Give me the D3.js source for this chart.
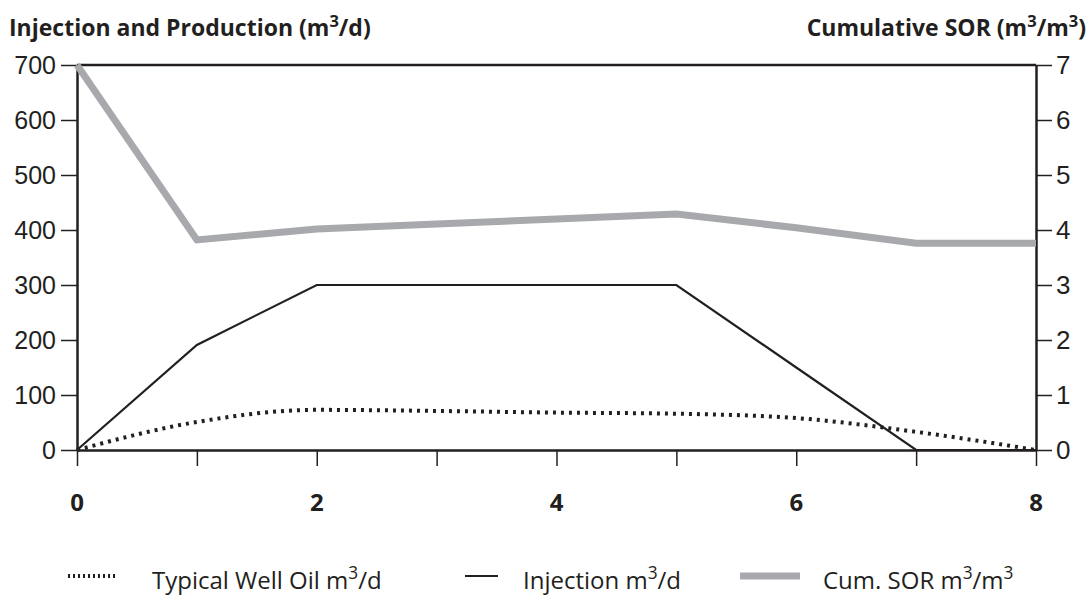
<!DOCTYPE html>
<html>
<head>
<meta charset="utf-8">
<script src="https://cdn.jsdelivr.net/npm/d3@7"></script>
<style>
  html, body { margin: 0; padding: 0; background: #fff; }
  svg { display: block; }
</style>
</head>
<body>
<svg id="chart" width="1092" height="596"></svg>
<script>
// Years since start of operations
const years = [0, 1, 2, 3, 4, 5, 6, 7, 8];
// Typical well oil production, m3/d
const oilRate = [0, 51, 73, 71, 68, 66, 58, 33, 0];
// Steam injection, m3/d
const injection = [0, 191, 300, 300, 300, 300, 150, 0, 0];
// Cumulative steam-oil ratio, m3/m3
const cumSOR = [7.0, 3.82, 4.02, 4.11, 4.2, 4.29, 4.04, 3.76, 3.76];

const leftTicks = [0, 100, 200, 300, 400, 500, 600, 700];
const rightTicks = [0, 1, 2, 3, 4, 5, 6, 7];
const xTicks = [0, 1, 2, 3, 4, 5, 6, 7, 8];
const xLabels = [0, 2, 4, 6, 8];

const svg = d3.select("#chart");
const plotL = 77, plotR = 1036, plotT = 65, plotB = 450;

const x = d3.scaleLinear().domain([0, 8]).range([plotL, plotR]);
const yL = d3.scaleLinear().domain([0, 700]).range([plotB, plotT]);
const yR = d3.scaleLinear().domain([0, 7]).range([plotB, plotT]);

const tickFont = "'Liberation Sans', Arial, sans-serif";
const titleFont = "'Open Sans', 'DejaVu Sans', sans-serif";
const ink = "#231f20";

// Left axis
const gL = svg.append("g").attr("transform", `translate(${plotL},0)`)
  .call(d3.axisLeft(yL).tickValues(leftTicks).tickSize(16).tickPadding(5).tickSizeOuter(0));
// Right axis
const gR = svg.append("g").attr("transform", `translate(${plotR},0)`)
  .call(d3.axisRight(yR).tickValues(rightTicks).tickFormat(d3.format("d"))
    .tickSize(16).tickPadding(4).tickSizeOuter(0));
// Bottom axis
const gB = svg.append("g").attr("transform", `translate(0,${plotB})`)
  .call(d3.axisBottom(x).tickValues(xTicks).tickSize(16).tickSizeOuter(0).tickFormat(() => ""));

[gL, gR, gB].forEach(g => {
  g.selectAll(".domain").attr("stroke", ink).attr("stroke-width", 2.5);
  g.selectAll(".tick line").attr("stroke", ink).attr("stroke-width", 1.5);
  g.selectAll(".tick text").attr("fill", ink).style("font-family", tickFont).style("font-size", "25px");
});
gR.selectAll(".tick text").style("font-size", "26px");

// Top frame line
svg.append("line")
  .attr("x1", plotL).attr("x2", plotR).attr("y1", plotT).attr("y2", plotT)
  .attr("stroke", ink).attr("stroke-width", 2.5);

// Bold x labels for even years
svg.append("g").selectAll("text").data(xLabels).join("text")
  .attr("x", d => x(d)).attr("y", 511)
  .attr("text-anchor", "middle")
  .attr("fill", ink)
  .style("font-family", titleFont).style("font-weight", "bold").style("font-size", "24px")
  .text(d => d);

// Series lines
const lineL = d3.line().x((d, i) => x(years[i])).y(d => yL(d));
const lineR = d3.line().x((d, i) => x(years[i])).y(d => yR(d));

svg.append("path").datum(cumSOR)
  .attr("d", lineR).attr("fill", "none")
  .attr("stroke", "#a7a9ac").attr("stroke-width", 7).attr("stroke-linejoin", "miter");

svg.append("path").datum(injection)
  .attr("d", lineL).attr("fill", "none")
  .attr("stroke", ink).attr("stroke-width", 2.2);

svg.append("path").datum(oilRate)
  .attr("d", d3.line().x((d, i) => x(years[i])).y(d => yL(d)).curve(d3.curveMonotoneX))
  .attr("fill", "none")
  .attr("stroke", ink).attr("stroke-width", 4).attr("stroke-dasharray", "3,5");

// Text with superscript parts; the tspan after a superscript drops back to the baseline
function supText(sel, parts, size) {
  let raised = false;
  parts.forEach(p => {
    const ts = sel.append("tspan").text(p.t);
    if (p.sup) {
      ts.attr("dy", -size * 0.4).style("font-size", (size * 0.72) + "px");
      raised = true;
    } else if (raised) {
      ts.attr("dy", size * 0.4);
      raised = false;
    }
  });
}

const t1 = svg.append("text").attr("x", 9).attr("y", 36)
  .attr("fill", ink)
  .style("font-family", titleFont).style("font-weight", "bold").style("font-size", "23px");
supText(t1, [{t: "Injection and Production (m"}, {t: "3", sup: true}, {t: "/d)"}], 23);

const t2 = svg.append("text").attr("x", 1086).attr("y", 36)
  .attr("text-anchor", "end")
  .attr("fill", ink)
  .style("font-family", titleFont).style("font-weight", "bold").style("font-size", "23px");
supText(t2, [{t: "Cumulative SOR (m"}, {t: "3", sup: true}, {t: "/m"}, {t: "3", sup: true}, {t: ")"}], 23);

// Legend
const legend = [
  {sx: 68, ex: 117, tx: 152, stroke: ink, w: 4, dash: "2,3", parts: [{t: "Typical Well Oil m"}, {t: "3", sup: true}, {t: "/d"}]},
  {sx: 465, ex: 498, tx: 523, stroke: ink, w: 2.2, dash: null, parts: [{t: "Injection m"}, {t: "3", sup: true}, {t: "/d"}]},
  {sx: 740, ex: 800, tx: 823, stroke: "#a7a9ac", w: 7, dash: null, parts: [{t: "Cum. SOR m"}, {t: "3", sup: true}, {t: "/m"}, {t: "3", sup: true}]}
];
legend.forEach(l => {
  const ln = svg.append("line").attr("x1", l.sx).attr("x2", l.ex).attr("y1", 576).attr("y2", 576)
    .attr("stroke", l.stroke).attr("stroke-width", l.w);
  if (l.dash) ln.attr("stroke-dasharray", l.dash);
  const t = svg.append("text").attr("x", l.tx).attr("y", 589).attr("fill", ink)
    .style("font-family", titleFont).style("font-size", "24px");
  supText(t, l.parts, 24);
});
</script>
</body>
</html>
